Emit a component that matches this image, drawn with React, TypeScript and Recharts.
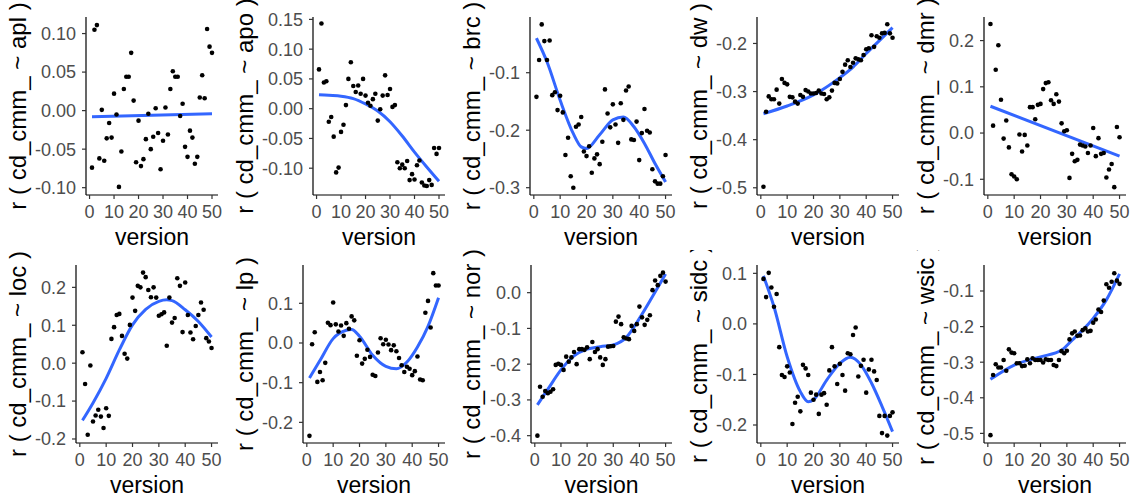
import { ComposedChart, Scatter, Line, XAxis, YAxis } from "recharts";

// version 1..50 on the x axis
const versions = [
  1, 2, 3, 4, 5, 6, 7, 8, 9, 10, 11, 12, 13, 14, 15, 16, 17, 18, 19, 20, 21, 22, 23, 24, 25,
  26, 27, 28, 29, 30, 31, 32, 33, 34, 35, 36, 37, 38, 39, 40, 41, 42, 43, 44, 45, 46, 47, 48, 49, 50,
];
const xTicks = [0, 10, 20, 30, 40, 50];

// r values per version
const aplR = [
  -0.074, 0.105, 0.111, -0.062, 0.001, -0.065, -0.036, -0.016, -0.035, 0.022, -0.005, -0.099, -0.053,
  0.028, 0.044, 0.044, 0.075, 0.013, -0.067, -0.013, -0.072, -0.063, -0.037, -0.004, -0.05, -0.034,
  0.003, -0.029, -0.076, -0.039, 0.004, -0.031, 0.028, 0.051, 0.044, 0.044, -0.007, 0.009, -0.047,
  -0.06, -0.026, -0.035, -0.069, -0.06, 0.017, 0.046, 0.016, 0.106, 0.083, 0.075,
];
const apoR = [
  0.066, 0.143, 0.044, 0.046, -0.022, -0.014, -0.047, -0.107, -0.099, -0.039, -0.027, 0.006, 0.05,
  0.078, 0.038, 0.028, 0.039, 0.025, 0.05, 0.022, 0.01, 0.005, 0.016, 0.025, -0.02, -0.001, 0.022,
  0.056, 0.023, 0.033, 0.003, 0.006, -0.09, -0.1, -0.094, -0.1, -0.088, -0.12, -0.11, -0.119, -0.095,
  -0.087, -0.124, -0.129, -0.13, -0.12, -0.128, -0.066, -0.076, -0.066,
];
const brcR = [
  -0.142, -0.078, -0.016, -0.045, -0.078, -0.044, -0.139, -0.134, -0.165, -0.14, -0.169, -0.243,
  -0.213, -0.28, -0.3, -0.194, -0.19, -0.177, -0.237, -0.245, -0.228, -0.274, -0.249, -0.242,
  -0.259, -0.22, -0.129, -0.171, -0.195, -0.155, -0.19, -0.222, -0.153, -0.182, -0.131, -0.124,
  -0.216, -0.217, -0.185, -0.252, -0.205, -0.163, -0.201, -0.204, -0.268, -0.289, -0.293, -0.293,
  -0.28, -0.243,
];
const dwR = [
  -0.498, -0.342, -0.31, -0.316, -0.316, -0.296, -0.325, -0.274, -0.282, -0.285, -0.311, -0.312,
  -0.321, -0.325, -0.307, -0.311, -0.297, -0.3, -0.304, -0.304, -0.303, -0.298, -0.304, -0.305,
  -0.316, -0.312, -0.298, -0.282, -0.283, -0.274, -0.259, -0.244, -0.235, -0.249, -0.24, -0.231,
  -0.233, -0.235, -0.224, -0.212, -0.21, -0.183, -0.207, -0.185, -0.188, -0.179, -0.178, -0.16,
  -0.179, -0.188,
];
const dmrR = [
  0.236, 0.016, 0.137, 0.19, 0.072, -0.012, 0.027, -0.031, -0.089, -0.094, -0.1, -0.003, -0.04,
  -0.004, -0.027, 0.056, 0.056, 0.03, 0.061, 0.063, 0.095, 0.108, 0.11, 0.071, 0.063, 0.084, 0.068,
  0.021, 0.004, 0.006, -0.097, -0.045, -0.061, -0.058, -0.025, -0.027, -0.029, -0.043, -0.027, 0.011,
  -0.05, -0.011, -0.045, -0.043, -0.096, -0.079, -0.067, -0.117, 0.013, -0.009,
];
const locR = [
  0.029, -0.055, -0.189, -0.006, -0.154, -0.138, -0.123, -0.141, -0.171, -0.119, -0.139, 0.064,
  0.095, 0.127, 0.13, 0.072, 0.025, 0.012, 0.101, 0.173, 0.138, 0.204, 0.2, 0.239, 0.227, 0.193,
  0.174, 0.2, 0.173, 0.125, 0.129, 0.134, 0.046, 0.173, 0.107, 0.119, 0.224, 0.204, 0.082, 0.213,
  0.127, 0.081, 0.063, 0.098, 0.127, 0.16, 0.141, 0.066, 0.057, 0.04,
];
const lpR = [
  -0.234, -0.003, 0.027, -0.098, -0.073, -0.094, -0.05, 0.051, 0.045, 0.102, 0.047, 0.029, 0.044,
  0.018, 0.05, 0.036, 0.067, 0.057, -0.032, 0.007, -0.052, -0.04, -0.017, -0.035, -0.08, -0.083,
  -0.024, 0.012, -0.003, 0.008, -0.004, -0.018, -0.006, -0.021, -0.038, -0.056, -0.073, -0.06,
  -0.065, -0.081, -0.071, -0.034, -0.092, -0.094, 0.076, 0.106, 0.039, 0.176, 0.145, 0.145,
];
const norR = [
  -0.4, -0.263, -0.291, -0.275, -0.281, -0.277, -0.27, -0.202, -0.199, -0.202, -0.216, -0.179,
  -0.193, -0.181, -0.166, -0.2, -0.158, -0.158, -0.16, -0.153, -0.186, -0.138, -0.166, -0.158,
  -0.181, -0.202, -0.186, -0.151, -0.15, -0.149, -0.081, -0.067, -0.088, -0.125, -0.128, -0.13,
  -0.093, -0.107, -0.088, -0.039, -0.069, -0.09, -0.076, -0.063, 0.007, 0.034, 0.021, 0.047, 0.056,
  0.031,
];
const sidcR = [
  0.089, 0.053, 0.101, 0.072, 0.034, 0.059, -0.046, -0.101, -0.105, -0.084, -0.096, -0.198, -0.156,
  -0.144, -0.173, -0.081, -0.088, -0.101, -0.136, -0.15, -0.14, -0.178, -0.14, -0.137, -0.16,
  -0.092, -0.046, -0.084, -0.119, -0.079, -0.101, -0.132, -0.058, -0.06, -0.022, -0.007, -0.104,
  -0.083, -0.071, -0.136, -0.09, -0.071, -0.094, -0.111, -0.182, -0.216, -0.182, -0.221, -0.182,
  -0.175,
];
const wsicR = [
  -0.505, -0.336, -0.306, -0.315, -0.315, -0.294, -0.324, -0.264, -0.273, -0.275, -0.303, -0.303,
  -0.311, -0.31, -0.292, -0.303, -0.289, -0.294, -0.294, -0.294, -0.301, -0.292, -0.294, -0.294,
  -0.308, -0.311, -0.294, -0.269, -0.275, -0.268, -0.236, -0.219, -0.214, -0.226, -0.225, -0.21,
  -0.205, -0.214, -0.212, -0.189, -0.18, -0.152, -0.159, -0.127, -0.081, -0.091, -0.074, -0.05,
  -0.071, -0.08,
];

// smoothed fits (blue curves), read at a few versions
const aplFitX = [1, 50];
const aplFitY = [-0.008, -0.004];
const apoFitX = [1, 5, 10, 15, 20, 25, 30, 35, 40, 45, 50];
const apoFitY = [0.0235, 0.0224, 0.021, 0.017, 0.008, -0.004, -0.022, -0.046, -0.073, -0.098, -0.122];
const brcFitX = [1, 5, 10, 15, 18, 20, 25, 30, 34, 38, 42, 46, 50];
const brcFitY = [-0.04, -0.081, -0.148, -0.206, -0.229, -0.232, -0.208, -0.182, -0.177, -0.194, -0.223, -0.258, -0.29];
const dwFitX = [1, 10, 20, 30, 35, 40, 45, 50];
const dwFitY = [-0.346, -0.33, -0.307, -0.271, -0.249, -0.221, -0.194, -0.167];
const dmrFitX = [1, 50];
const dmrFitY = [0.058, -0.05];
const locFitX = [1, 5, 10, 15, 20, 25, 30, 33, 35, 40, 45, 50];
const locFitY = [-0.151, -0.105, -0.04, 0.035, 0.101, 0.142, 0.163, 0.167, 0.165, 0.141, 0.11, 0.069];
const lpFitX = [1, 5, 10, 15, 17, 20, 25, 30, 34, 38, 42, 46, 50];
const lpFitY = [-0.088, -0.044, 0.011, 0.032, 0.034, 0.017, -0.031, -0.059, -0.065, -0.048, -0.01, 0.042, 0.114];
const norFitX = [1, 5, 10, 15, 20, 25, 30, 35, 40, 45, 50];
const norFitY = [-0.314, -0.27, -0.216, -0.177, -0.158, -0.151, -0.146, -0.125, -0.072, -0.011, 0.052];
const sidcFitX = [1, 5, 10, 15, 18, 20, 25, 30, 34, 38, 42, 46, 50];
const sidcFitY = [0.095, 0.034, -0.065, -0.134, -0.154, -0.15, -0.111, -0.078, -0.066, -0.081, -0.117, -0.163, -0.213];
const wsicFitX = [1, 10, 20, 28, 32, 36, 40, 45, 50];
const wsicFitY = [-0.348, -0.308, -0.285, -0.266, -0.238, -0.21, -0.177, -0.125, -0.052];

const panels = [
  { name: "apl", r: aplR, fx: aplFitX, fy: aplFitY, domain: [-0.1095, 0.1215], ticks: [-0.1, -0.05, 0, 0.05, 0.1], digits: 2, left: 86, row: 0 },
  { name: "apo", r: apoR, fx: apoFitX, fy: apoFitY, domain: [-0.145, 0.154], ticks: [-0.1, -0.05, 0, 0.05, 0.1, 0.15], digits: 2, left: 86, row: 0 },
  { name: "brc", r: brcR, fx: brcFitX, fy: brcFitY, domain: [-0.3127, -0.0031], ticks: [-0.3, -0.2, -0.1], digits: 1, left: 76, row: 0 },
  { name: "dw", r: dwR, fx: dwFitX, fy: dwFitY, domain: [-0.515, -0.145], ticks: [-0.5, -0.4, -0.3, -0.2], digits: 1, left: 76, row: 0 },
  { name: "dmr", r: dmrR, fx: dmrFitX, fy: dmrFitY, domain: [-0.134, 0.251], ticks: [-0.1, 0, 0.1, 0.2], digits: 1, left: 76, row: 0 },
  { name: "loc", r: locR, fx: locFitX, fy: locFitY, domain: [-0.2106, 0.259], ticks: [-0.2, -0.1, 0, 0.1, 0.2], digits: 1, left: 76, row: 1 },
  { name: "lp", r: lpR, fx: lpFitX, fy: lpFitY, domain: [-0.252, 0.1965], ticks: [-0.2, -0.1, 0, 0.1], digits: 1, left: 76, row: 1 },
  { name: "nor", r: norR, fx: norFitX, fy: norFitY, domain: [-0.4205, 0.0774], ticks: [-0.4, -0.3, -0.2, -0.1, 0], digits: 1, left: 77, row: 1 },
  { name: "sidc", r: sidcR, fx: sidcFitX, fy: sidcFitY, domain: [-0.2356, 0.1165], ticks: [-0.2, -0.1, 0, 0.1], digits: 1, left: 76, row: 1 },
  { name: "wsic", r: wsicR, fx: wsicFitX, fy: wsicFitY, domain: [-0.527, -0.027], ticks: [-0.5, -0.4, -0.3, -0.2, -0.1], digits: 1, left: 76, row: 1 },
];

const font = "'Liberation Sans', Arial, sans-serif";
const tickStyle = { fill: "#4D4D4D", fontSize: 18, fontFamily: font };

function Dot(props: any) {
  if (props.cx == null || props.cy == null) return null;
  return <circle cx={props.cx} cy={props.cy} r={2.3} fill="#000" />;
}

function Panel({ p }: { p: (typeof panels)[number] }) {
  const pts = versions.map((v, i) => ({ x: v, y: p.r[i] }));
  const fit = p.fx.map((v, i) => ({ x: v, y: p.fy[i] }));
  const top = p.row === 0 ? 17 : 15;
  const xh = p.row === 0 ? 55 : 57;
  return (
    <ComposedChart width={227} height={250} margin={{ top, right: 9, bottom: 0, left: 0 }}>
      <XAxis
        type="number"
        dataKey="x"
        domain={[-1.45, 52.45]}
        ticks={xTicks}
        interval={0}
        allowDataOverflow
        height={xh}
        tick={tickStyle}
        tickSize={4}
        tickMargin={6}
        axisLine={{ stroke: "#000", strokeWidth: 1.2 }}
        tickLine={{ stroke: "#333", strokeWidth: 1.2 }}
        label={(lp: any) => {
          const vb = lp.viewBox;
          return (
            <text x={vb.x + vb.width / 2} y={vb.y + 50} textAnchor="middle" fontSize={23} fontFamily={font} fill="#000">
              version
            </text>
          );
        }}
      />
      <YAxis
        type="number"
        dataKey="y"
        domain={p.domain}
        ticks={p.ticks}
        interval={0}
        allowDataOverflow
        width={p.left}
        tick={tickStyle}
        tickFormatter={(v: number) => v.toFixed(p.digits)}
        tickSize={4}
        tickMargin={6}
        axisLine={{ stroke: "#000", strokeWidth: 1.2 }}
        tickLine={{ stroke: "#333", strokeWidth: 1.2 }}
        label={(lp: any) => {
          const vb = lp.viewBox;
          const cy = vb.y + vb.height / 2;
          return (
            <text x={26} y={cy} transform={`rotate(-90, 26, ${cy})`} textAnchor="middle" fontSize={24} fontFamily={font} fill="#000">
              {`r ( cd_cmm_ ~ ${p.name} )`}
            </text>
          );
        }}
      />
      <Scatter data={pts} dataKey="y" shape={<Dot />} isAnimationActive={false} />
      <Line data={fit} dataKey="y" type="monotone" stroke="#3366FF" strokeWidth={3} dot={false} activeDot={false} isAnimationActive={false} />
    </ComposedChart>
  );
}

export default function App() {
  return (
    <div style={{ position: "absolute", left: 0, top: 0, width: 1135, height: 500, background: "#fff", display: "flex", flexWrap: "wrap" }}>
      {panels.map((p) => (
        <Panel key={p.name} p={p} />
      ))}
    </div>
  );
}
